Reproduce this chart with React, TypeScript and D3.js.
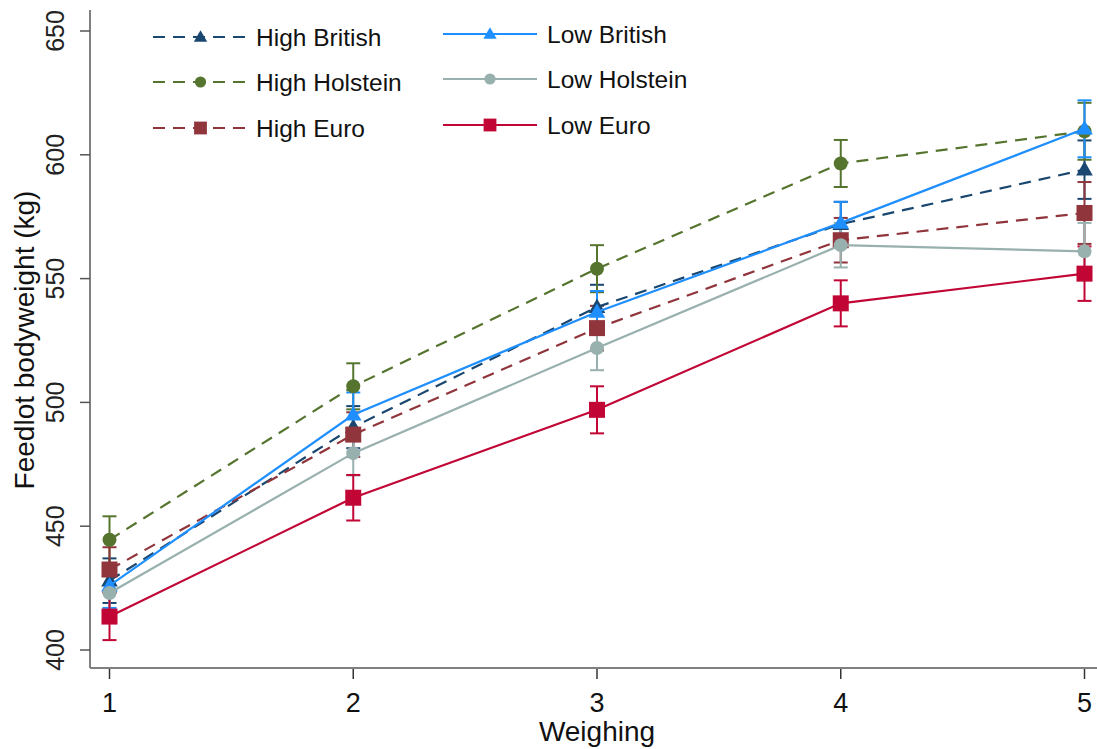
import React from "react";
import * as d3 from "d3";

// Weighing occasions
const weighings = [1, 2, 3, 4, 5];
const yTicks = [400, 450, 500, 550, 600, 650];

// Means (kg) and standard errors
const highBritish = [428, 490, 538.5, 572, 594];
const highBritishSe = [9, 8.5, 9, 9, 11.8];
const lowBritish = [426, 495, 536.5, 572.5, 610.5];
const lowBritishSe = [9, 9, 8.5, 8.5, 11.5];
const highHolstein = [444.5, 506.5, 554, 596.5, 609.5];
const highHolsteinSe = [9.5, 9.3, 9.5, 9.5, 11.5];
const lowHolstein = [423, 479.5, 522, 563.5, 561];
const lowHolsteinSe = [9, 9, 9, 9, 11.5];
const highEuro = [432.5, 487, 530, 565.5, 576.5];
const highEuroSe = [9, 9, 9, 9, 12.5];
const lowEuro = [413.5, 461.5, 497, 540, 552];
const lowEuroSe = [9.5, 9.2, 9.5, 9.3, 11];

type Series = {
  name: string;
  values: number[];
  se: number[];
  color: string;
  dashed: boolean;
  marker: "triangle" | "circle" | "square";
};

// legend order (row-wise, two columns)
const series: Series[] = [
  { name: "High British", values: highBritish, se: highBritishSe, color: "#1a476f", dashed: true, marker: "triangle" },
  { name: "Low British", values: lowBritish, se: lowBritishSe, color: "#1f8fff", dashed: false, marker: "triangle" },
  { name: "High Holstein", values: highHolstein, se: highHolsteinSe, color: "#55752f", dashed: true, marker: "circle" },
  { name: "Low Holstein", values: lowHolstein, se: lowHolsteinSe, color: "#98b0ae", dashed: false, marker: "circle" },
  { name: "High Euro", values: highEuro, se: highEuroSe, color: "#90353b", dashed: true, marker: "square" },
  { name: "Low Euro", values: lowEuro, se: lowEuroSe, color: "#c10534", dashed: false, marker: "square" },
];

// drawing order: high groups first, low groups on top
const drawOrder = [0, 2, 4, 1, 3, 5].map((i) => series[i]);

const W = 1097;
const H = 749;
const FONT = "'Liberation Sans', Arial, sans-serif";

const x = d3.scaleLinear().domain([1, 5]).range([109.5, 1084.5]);
const y = d3.scaleLinear().domain([400, 650]).range([650, 31]);

const axisX = 90;
const axisY = 668;

const Marker: React.FC<{ kind: Series["marker"]; cx: number; cy: number; color: string; scale?: number }> = ({
  kind,
  cx,
  cy,
  color,
  scale = 1,
}) => {
  if (kind === "circle") return <circle cx={cx} cy={cy} r={7 * scale} fill={color} />;
  if (kind === "square") {
    const s = 16 * scale;
    return <rect x={cx - s / 2} y={cy - s / 2} width={s} height={s} fill={color} />;
  }
  const path = d3.symbol().type(d3.symbolTriangle).size(120 * scale * scale)() as string;
  return <path d={path} transform={`translate(${cx},${cy + 1})`} fill={color} />;
};

export default function App() {
  const line = d3
    .line<number>()
    .x((_, i) => x(weighings[i]))
    .y((d) => y(d));

  const legendRows = [37, 82, 128];
  const legendCols = [
    { x1: 153, x2: 248, tx: 256 },
    { x1: 443, x2: 537, tx: 547 },
  ];

  return (
    <svg
      width={W}
      height={H}
      style={{ position: "absolute", left: 0, top: 0, background: "#fff" }}
      fontFamily={FONT}
    >
      <rect width={W} height={H} fill="#fff" />

      {/* axes */}
      <line x1={axisX} x2={axisX} y1={10} y2={axisY} stroke="#808080" strokeWidth={2} />
      <line x1={axisX} x2={W} y1={axisY} y2={axisY} stroke="#808080" strokeWidth={2} />
      {yTicks.map((t) => (
        <g key={t}>
          <line x1={axisX - 10} x2={axisX} y1={y(t)} y2={y(t)} stroke="#555" strokeWidth={1.5} />
          <text
            transform={`translate(64,${y(t)}) rotate(-90)`}
            textAnchor="middle"
            fontSize={25}
            fill="#222"
          >
            {t}
          </text>
        </g>
      ))}
      {weighings.map((w) => (
        <g key={w}>
          <line x1={x(w)} x2={x(w)} y1={axisY + 1} y2={axisY + 11} stroke="#333" strokeWidth={1.5} />
          <text x={x(w)} y={712} textAnchor="middle" fontSize={27} fill="#111">
            {w}
          </text>
        </g>
      ))}
      <text x={597} y={741} textAnchor="middle" fontSize={28} fill="#111">
        Weighing
      </text>
      <text transform="translate(34,340) rotate(-90)" textAnchor="middle" fontSize={28} fill="#111">
        Feedlot bodyweight (kg)
      </text>

      {/* error bars */}
      {drawOrder.map((s) => (
        <g key={s.name + "-err"} stroke={s.color} strokeWidth={2}>
          {s.values.map((v, i) => {
            const cx = x(weighings[i]);
            const lo = y(v - s.se[i]);
            const hi = y(v + s.se[i]);
            return (
              <g key={i}>
                <line x1={cx} x2={cx} y1={lo} y2={hi} />
                <line x1={cx - 7} x2={cx + 7} y1={lo} y2={lo} />
                <line x1={cx - 7} x2={cx + 7} y1={hi} y2={hi} />
              </g>
            );
          })}
        </g>
      ))}

      {/* lines and markers */}
      {drawOrder.map((s) => (
        <g key={s.name}>
          <path
            d={line(s.values) as string}
            fill="none"
            stroke={s.color}
            strokeWidth={2.2}
            strokeDasharray={s.dashed ? "12,8" : undefined}
          />
          {s.values.map((v, i) => (
            <Marker key={i} kind={s.marker} cx={x(weighings[i])} cy={y(v)} color={s.color} />
          ))}
        </g>
      ))}

      {/* legend */}
      {series.map((s, i) => {
        const col = legendCols[i % 2];
        const ry = legendRows[Math.floor(i / 2)] - (i % 2 === 1 ? 3 : 0);
        const mx = (col.x1 + col.x2) / 2;
        return (
          <g key={s.name + "-leg"}>
            <line
              x1={col.x1}
              x2={col.x2}
              y1={ry}
              y2={ry}
              stroke={s.color}
              strokeWidth={2}
              strokeDasharray={s.dashed ? "12,8" : undefined}
            />
            <Marker kind={s.marker} cx={mx} cy={ry} color={s.color} scale={0.8} />
            <text x={col.tx} y={ry + 9} fontSize={24.5} fill="#111">
              {s.name}
            </text>
          </g>
        );
      })}
    </svg>
  );
}
